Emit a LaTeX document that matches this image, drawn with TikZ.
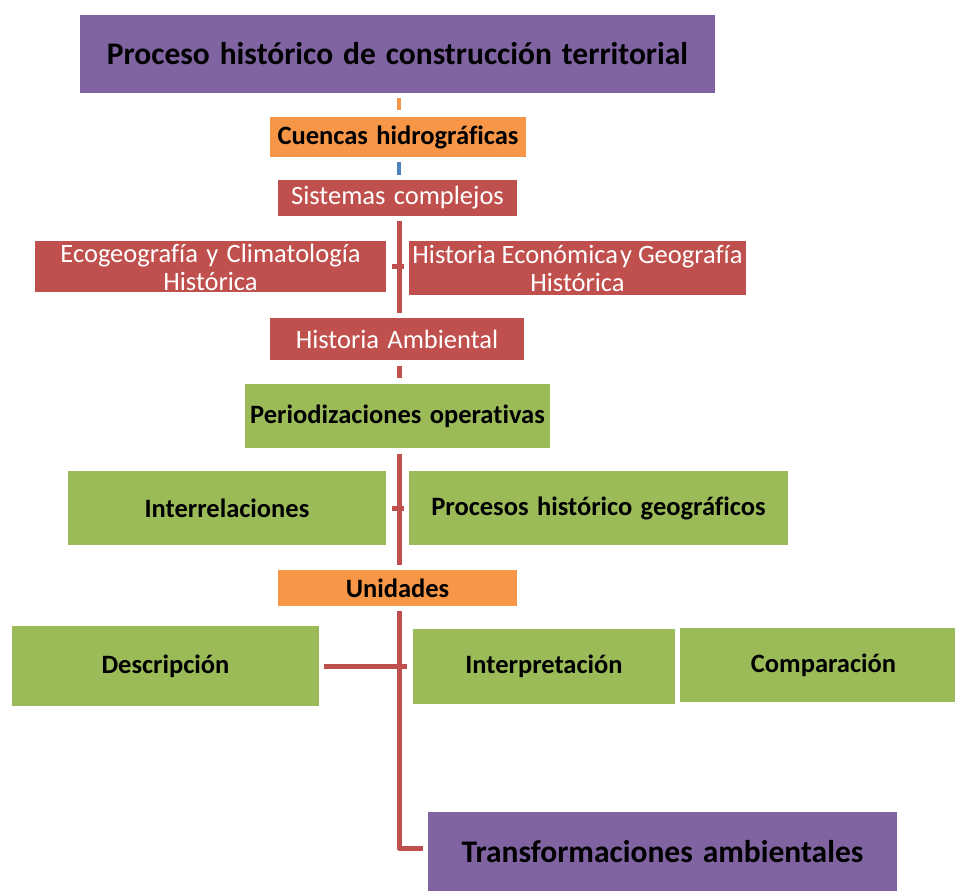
\documentclass[tikz,border=0pt]{standalone}
\usepackage{fontspec}
\setmainfont{Carlito}[Ligatures=NoCommon, WordSpace=1.4]
\newfontfamily\plainfont{Carlito}[Ligatures=NoCommon]
\definecolor{cpurple}{HTML}{8064A2}
\definecolor{corange}{HTML}{F79646}
\definecolor{cred}{HTML}{C0504D}
\definecolor{cgreen}{HTML}{9BBB59}
\definecolor{cblue}{HTML}{4F81BD}
\tikzset{
  box/.style={fill=#1, draw=none, inner sep=0pt, align=center},
  wbox/.style={box=#1, text=white, font=\fontsize{26.5}{28}\selectfont},
  bbox/.style={box=#1, text=black, font=\bfseries\fontsize{26.5}{28}\selectfont},
  big/.style={box=#1, text=black, font=\bfseries\fontsize{31.5}{33}\selectfont},
  conn/.style={draw=cred, line width=5pt},
}
\begin{document}
\begin{tikzpicture}[x=1pt,y=-1pt]
\clip (0,0) rectangle (955,891);
\fill[white] (0,0) rectangle (955,891);
\coordinate (spine) at (399,0);
% nodes
\node[big=cpurple, minimum width=635pt, minimum height=78pt] (top) at (397.5,54) {Proceso histórico de construcción territorial};
\node[bbox=corange, minimum width=256pt, minimum height=40pt] (cuen) at (398,137) {Cuencas hidrográficas};
\node[wbox=cred, minimum width=239pt, minimum height=36pt] (sis) at (397.5,198) {Sistemas complejos};
\node[box=cred, minimum width=351pt, minimum height=51pt,
  label={[text=white, font=\fontsize{26.5}{28}\selectfont, align=center, yshift=-1pt]center:Ecogeografía y Climatología\\Histórica}] (eco) at (210.5,266.5) {};
\node[box=cred, minimum width=337pt, minimum height=54pt,
  label={[text=white, font=\plainfont\fontsize{26.5}{28}\selectfont, align=center, yshift=0pt]center:Historia Económica\hspace{2pt}y Geografía\\Histórica}] (hec) at (577.5,268) {};
\node[wbox=cred, minimum width=254pt, minimum height=42pt] (amb) at (397,339) {Historia Ambiental};
\node[bbox=cgreen, minimum width=305pt, minimum height=64pt] (per) at (397.5,416) {Periodizaciones operativas};
\node[bbox=cgreen, minimum width=318pt, minimum height=74pt] (int) at (227,508) {Interrelaciones};
\node[bbox=cgreen, minimum width=379pt, minimum height=74pt] (proc) at (598.5,508) {Procesos histórico geográficos};
\node[bbox=corange, minimum width=239pt, minimum height=36pt] (uni) at (397.5,588) {Unidades};
\node[bbox=cgreen, minimum width=307pt, minimum height=80pt] (desc) at (165.5,666) {Descripción};
\node[bbox=cgreen, minimum width=262pt, minimum height=75pt] (interp) at (544,666.5) {Interpretación};
\node[bbox=cgreen, minimum width=287pt, minimum height=74pt] (comp) at (823.5,665) {Comparación};
\node[big=cpurple, minimum width=469pt, minimum height=79pt] (trans) at (662.5,851.5) {Transformaciones ambientales};
% connectors
\draw[draw=corange, line width=4pt, shorten <=5pt, shorten >=7pt] (top.south -| spine) -- (cuen.north -| spine);
\draw[draw=cblue, line width=4pt, shorten <=5pt, shorten >=5pt] (cuen.south -| spine) -- (sis.north -| spine);
\draw[conn, shorten <=5pt, shorten >=5pt] (sis.south -| spine) -- (amb.north -| spine);
\draw[conn, shorten <=6pt, shorten >=5pt] (eco.east) -- (eco.east -| hec.west);
\draw[conn, shorten <=6pt, shorten >=6pt] (amb.south -| spine) -- (per.north -| spine);
\draw[conn, shorten <=6pt, shorten >=5pt] (per.south -| spine) -- (uni.north -| spine);
\draw[conn, shorten <=6pt, shorten >=5pt] (int.east) -- (proc.west);
\draw[conn, shorten <=5pt, shorten >=6pt] (desc.east) -- (desc.east -| interp.west);
\draw[conn, shorten >=5pt, line join=round] ([yshift=-5pt]uni.south -| spine) |- ([yshift=3.5pt]trans.west);
\end{tikzpicture}
\end{document}
